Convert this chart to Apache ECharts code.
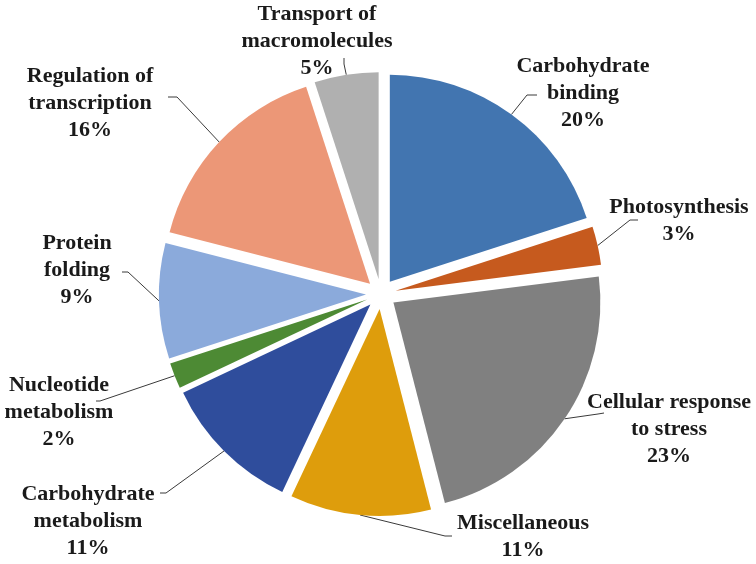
<!DOCTYPE html>
<html>
<head>
<meta charset="utf-8">
<script src="https://cdn.jsdelivr.net/npm/echarts@6/dist/echarts.min.js"></script>
<style>
  html, body { margin: 0; padding: 0; background: #fff; }
  #chart { width: 756px; height: 564px; }
</style>
</head>
<body>
<div id="chart"></div>
<script>
// categories and shares (%)
var categories = [
  'Carbohydrate\nbinding',
  'Photosynthesis',
  'Cellular response\nto stress',
  'Miscellaneous',
  'Carbohydrate\nmetabolism',
  'Nucleotide\nmetabolism',
  'Protein\nfolding',
  'Regulation of\ntranscription',
  'Transport of\nmacromolecules'
];
var shares = [20, 3, 23, 11, 11, 2, 9, 16, 5];
var colors = ['#4275B0', '#C65A1E', '#808080', '#DE9D0C', '#2F4D9C',
  '#4D8A34', '#8BAADB', '#EC9777', '#B0B0B0'];

// where each label block sits (centre of the text)
var labelSpots = [
  [583, 93], [679, 221], [669, 429], [523, 537], [88, 521],
  [59, 412], [77, 270], [90, 103], [317, 41]
];
// leader lines: elbow and end point (the start sits on the slice)
var leaderBends = [
  [[527, 95], [537, 95]],
  [[630, 220], [638, 220]],
  [[598, 414], [604, 413]],
  [[445, 536], [452, 536]],
  [[166, 493], [160, 493]],
  [[100, 401], [96, 401]],
  [[128, 272], [122, 272]],
  [[177, 97], [168, 97]],
  [[344, 64], [344, 58]]
];

var CX = 381, CY = 294, R = 207;
var FONT_SIZE = 22;
var EXPLODE = 15;

// measure text so each label box is as wide as its longest line
var ctx = document.createElement('canvas').getContext('2d');
ctx.font = 'bold ' + FONT_SIZE + 'px "Liberation Serif"';
function lines(i) {
  return categories[i].split('\n').concat([shares[i] + '%']);
}
function boxWidth(i) {
  return Math.ceil(Math.max.apply(null, lines(i).map(function (s) {
    return ctx.measureText(s).width;
  }))) + 2;
}

var total = shares.reduce(function (a, b) { return a + b; }, 0);
function midAngle(i) {
  var before = 0;
  for (var k = 0; k < i; k++) before += shares[k];
  return (before + shares[i] / 2) / total * Math.PI * 2;
}
// exploded slices carry label and line along, so take that shift back out
function explodeShift(i) {
  var a = midAngle(i);
  return [EXPLODE * Math.sin(a), -EXPLODE * Math.cos(a)];
}

var myChart = echarts.init(document.getElementById('chart'));

var pieData = categories.map(function (name, i) {
  return {
    name: name,
    value: shares[i],
    selected: true,
    itemStyle: { color: colors[i] },
    label: { rich: { t: { width: boxWidth(i) } } }
  };
});

myChart.setOption({
  animation: false,
  series: [
    {
      type: 'pie',
      center: [CX, CY],
      radius: R,
      startAngle: 90,
      clockwise: true,
      avoidLabelOverlap: false,
      selectedMode: 'multiple',
      selectedOffset: EXPLODE,
      data: pieData,
      itemStyle: { borderWidth: 0 },
      select: { itemStyle: { borderWidth: 0 } },
      emphasis: { disabled: true },
      label: {
        show: true,
        position: 'outside',
        formatter: function (p) {
          return lines(p.dataIndex).map(function (s) {
            return '{t|' + s + '}';
          }).join('\n');
        },
        rich: {
          t: {
            fontFamily: 'Liberation Serif',
            fontWeight: 'bold',
            fontSize: FONT_SIZE,
            lineHeight: 27,
            color: '#1a1a1a',
            align: 'center'
          }
        }
      },
      labelLine: {
        show: true,
        length: 20,
        length2: 8,
        lineStyle: { color: '#3a3a3a', width: 1 }
      },
      labelLayout: function (params) {
        var i = params.dataIndex;
        var spot = labelSpots[i];
        var r = params.labelRect;
        var sh = explodeShift(i);
        var a = midAngle(i);
        var start = [CX + R * Math.sin(a), CY - R * Math.cos(a)];
        var b = leaderBends[i];
        return {
          dx: spot[0] - (r.x + r.width / 2) - sh[0],
          dy: spot[1] - (r.y + r.height / 2) - sh[1],
          labelLinePoints: [
            start,
            [b[0][0] - sh[0], b[0][1] - sh[1]],
            [b[1][0] - sh[0], b[1][1] - sh[1]]
          ]
        };
      }
    }
  ]
});
</script>
</body>
</html>
